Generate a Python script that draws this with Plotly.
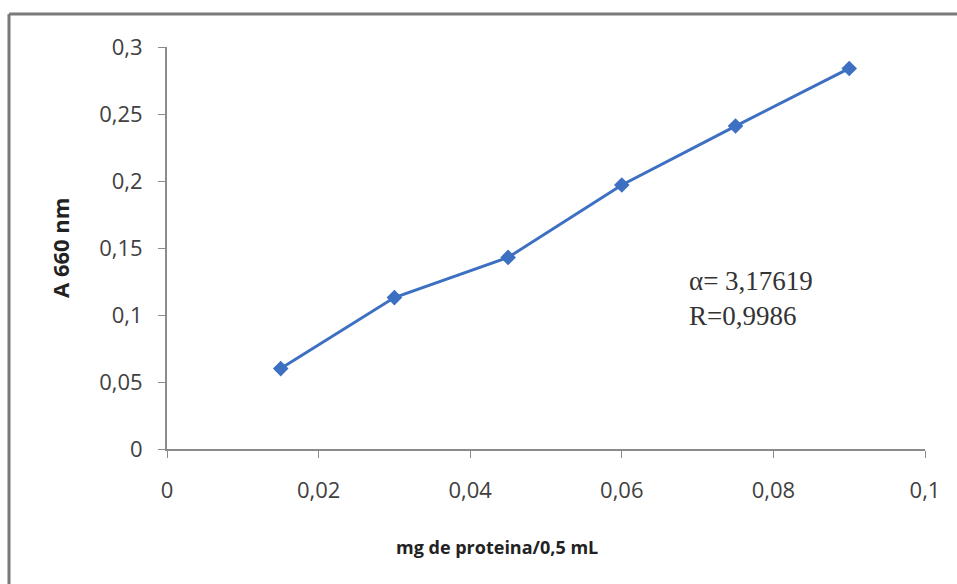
import plotly.graph_objects as go

# Protein calibration curve (Lowry, absorbance at 660 nm)
protein_mg = [0.015, 0.03, 0.045, 0.06, 0.075, 0.09]
absorbance = [0.060, 0.113, 0.143, 0.197, 0.241, 0.284]

x_tick_vals = [0, 0.02, 0.04, 0.06, 0.08, 0.1]
x_tick_text = ["0", "0,02", "0,04", "0,06", "0,08", "0,1"]
y_tick_vals = [0, 0.05, 0.1, 0.15, 0.2, 0.25, 0.3]
y_tick_text = ["0", "0,05", "0,1", "0,15", "0,2", "0,25", "0,3"]

fit_lines = ["α= 3,17619", "R=0,9986"]

W, H = 957, 584
L, R, T, B = 167, 32, 47, 135
pw, ph = W - L - R, H - T - B


def px_x(px):
    return (px - L) / pw


def px_y(py):
    return (H - B - py) / ph


axis_color = "#8a8a8a"
tick_font = dict(family="Open Sans", size=22, color="#404040")
title_font = dict(family="Open Sans", size=18, color="#222222")
fit_font = dict(family="Liberation Serif", size=27, color="#333333")

fig = go.Figure()
fig.add_trace(go.Scatter(
    x=protein_mg, y=absorbance, mode="lines+markers",
    line=dict(color="#3d6fc2", width=3),
    marker=dict(symbol="diamond", size=12, color="#3d6fc2"),
    showlegend=False,
))

fig.update_layout(
    width=W, height=H,
    margin=dict(l=L, r=R, t=T, b=B),
    paper_bgcolor="white", plot_bgcolor="white",
    xaxis=dict(
        range=[0, 0.1], tickvals=x_tick_vals, ticktext=x_tick_text,
        showgrid=False, zeroline=False, showline=True, linecolor=axis_color,
        linewidth=2, ticks="outside", ticklen=7, tickcolor=axis_color,
        tickfont=tick_font, ticklabelstandoff=14,
    ),
    yaxis=dict(
        range=[0, 0.3], tickvals=y_tick_vals, ticktext=y_tick_text,
        showgrid=False, zeroline=False, showline=True, linecolor=axis_color,
        linewidth=2, ticks="outside", ticklen=7, tickcolor=axis_color,
        tickfont=tick_font, ticklabelstandoff=11,
    ),
    shapes=[
        # chart frame (top and left edges)
        dict(type="line", xref="paper", yref="paper",
             x0=px_x(9), x1=px_x(W + 20), y0=px_y(14), y1=px_y(14),
             line=dict(color="#7a7a7a", width=3)),
        dict(type="line", xref="paper", yref="paper",
             x0=px_x(9), x1=px_x(9), y0=px_y(14), y1=px_y(H + 20),
             line=dict(color="#7a7a7a", width=3)),
    ],
    annotations=[
        dict(text="<b>A 660 nm</b>", textangle=-90, xref="paper", yref="paper",
             x=px_x(60), y=0.5, xanchor="center", yanchor="middle",
             showarrow=False, font=dict(title_font, size=22)),
        dict(text="<b>mg de proteina/0,5 mL</b>", xref="paper", yref="paper",
             x=px_x(497), y=px_y(547), xanchor="center", yanchor="middle",
             showarrow=False, font=title_font),
        dict(text=fit_lines[0], xref="paper", yref="paper",
             x=px_x(687), y=px_y(281), xanchor="left", yanchor="middle",
             showarrow=False, font=fit_font),
        dict(text=fit_lines[1], xref="paper", yref="paper",
             x=px_x(687), y=px_y(316), xanchor="left", yanchor="middle",
             showarrow=False, font=fit_font),
    ],
)

fig.write_html("out.html")
